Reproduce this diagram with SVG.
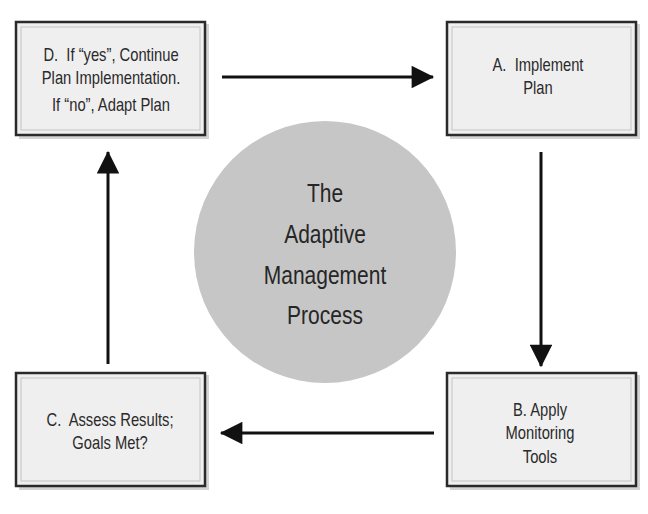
<svg xmlns="http://www.w3.org/2000/svg" width="648" height="514" viewBox="0 0 648 514">
  <style>
    .box { fill: #efefef; stroke: #2a2a2a; stroke-width: 2.5; }
    .inner { fill: none; stroke: #c4c4c4; stroke-width: 1; }
    .shadow { fill: #b0b0b0; opacity: 0.55; }
    .lbl { font-family: "Liberation Sans", Arial, sans-serif; font-size: 18px; fill: #2a2a2a; text-anchor: middle; }
    .big { font-size: 25px; fill: #262626; }
    .conn { stroke: #111; stroke-width: 3; fill: none; marker-end: url(#head); }
  </style>
  <defs>
    <marker id="head" viewBox="0 0 10 10" refX="9.5" refY="5" markerWidth="8.5" markerHeight="7.5" orient="auto" markerUnits="strokeWidth">
      <path d="M0,0 L10,5 L0,10 Z" fill="#111"/>
    </marker>
  </defs>
  <rect width="648" height="514" fill="#ffffff"/>

  <g id="center">
    <circle cx="325" cy="252" r="131" fill="#c6c6c6"/>
    <text class="lbl big" transform="translate(325,202) scale(0.84,1)">The</text>
    <text class="lbl big" transform="translate(325,243) scale(0.84,1)">Adaptive</text>
    <text class="lbl big" transform="translate(325,284) scale(0.84,1)">Management</text>
    <text class="lbl big" transform="translate(325,324) scale(0.84,1)">Process</text>
  </g>

  <g id="connectors">
    <line class="conn" x1="222" y1="77" x2="433" y2="77"/>
    <line class="conn" x1="541" y1="152" x2="541" y2="366"/>
    <line class="conn" x1="434" y1="433" x2="221" y2="433"/>
    <line class="conn" x1="108" y1="364" x2="108" y2="152"/>
  </g>

  <g id="nodeD">
    <rect class="shadow" x="19" y="24" width="190" height="115"/>
    <rect class="box" x="16" y="22" width="189" height="113"/>
    <rect class="inner" x="21" y="27" width="179" height="103"/>
    <text class="lbl" transform="translate(111,61) scale(0.82,1)" xml:space="preserve">D.  If “yes”, Continue</text>
    <text class="lbl" transform="translate(111,84) scale(0.82,1)">Plan Implementation.</text>
    <text class="lbl" transform="translate(111,111) scale(0.82,1)">If “no”, Adapt Plan</text>
  </g>

  <g id="nodeA">
    <rect class="shadow" x="450" y="24" width="190" height="115"/>
    <rect class="box" x="447" y="22" width="189" height="113"/>
    <rect class="inner" x="452" y="27" width="179" height="103"/>
    <text class="lbl" transform="translate(538,71) scale(0.82,1)" xml:space="preserve">A.  Implement</text>
    <text class="lbl" transform="translate(538,94) scale(0.82,1)">Plan</text>
  </g>

  <g id="nodeB">
    <rect class="shadow" x="450" y="375" width="190" height="115"/>
    <rect class="box" x="447" y="373" width="189" height="113"/>
    <rect class="inner" x="452" y="378" width="179" height="103"/>
    <text class="lbl" transform="translate(540,416) scale(0.82,1)">B. Apply</text>
    <text class="lbl" transform="translate(540,439) scale(0.82,1)">Monitoring</text>
    <text class="lbl" transform="translate(540,463) scale(0.82,1)">Tools</text>
  </g>

  <g id="nodeC">
    <rect class="shadow" x="19" y="375" width="190" height="115"/>
    <rect class="box" x="16" y="373" width="189" height="113"/>
    <rect class="inner" x="21" y="378" width="179" height="103"/>
    <text class="lbl" transform="translate(110,426) scale(0.82,1)" xml:space="preserve">C.  Assess Results;</text>
    <text class="lbl" transform="translate(110,449) scale(0.82,1)">Goals Met?</text>
  </g>
</svg>
